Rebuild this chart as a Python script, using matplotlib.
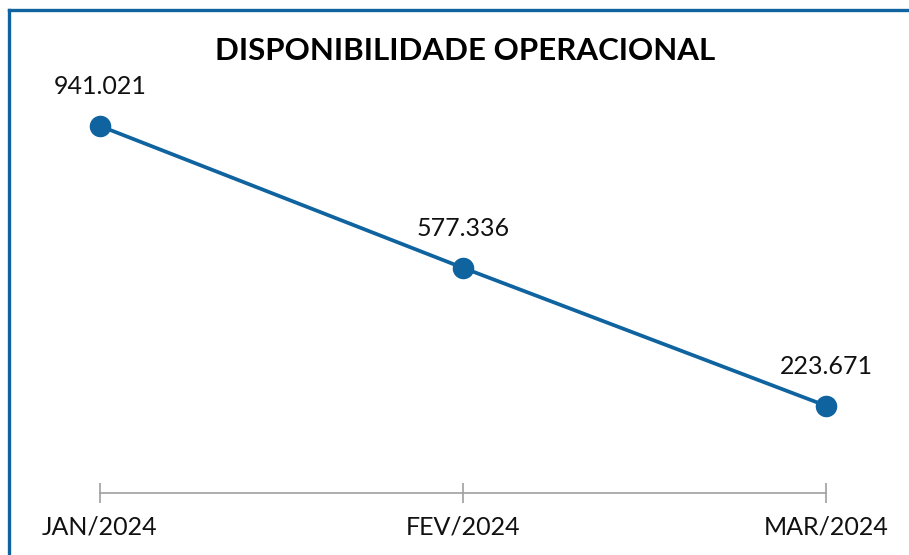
import matplotlib.pyplot as plt
from matplotlib.lines import Line2D

months = ['JAN/2024', 'FEV/2024', 'MAR/2024']
values = [941.021, 577.336, 223.671]
value_labels = ['941.021', '577.336', '223.671']
title = 'DISPONIBILIDADE OPERACIONAL'

BLUE = '#0f64a0'
GRAY = '#a0a0a0'

plt.rcParams['font.family'] = ['Lato', 'DejaVu Sans']

fig = plt.figure(figsize=(9.09, 5.55), dpi=100)
ax = fig.add_axes([100 / 909, 1 - 493 / 555, 726 / 909, 390 / 555])

x = list(range(len(months)))
ax.plot(x, values, color=BLUE, linewidth=2.7, marker='o', markersize=14.5,
        markerfacecolor=BLUE, markeredgecolor=BLUE, clip_on=False)

for xi, v, lab in zip(x, values, value_labels):
    ax.annotate(lab, (xi, v), xytext=(0, 20), textcoords='offset points',
                ha='center', va='bottom', fontsize=18, color='#111111')

ax.set_xlim(0, 2)
ax.set_ylim(0, 1000)
ax.set_xticks(x)
ax.set_xticklabels(months, fontsize=18, color='#111111')
ax.set_yticks([])
for s in ['top', 'right', 'left']:
    ax.spines[s].set_visible(False)
ax.spines['bottom'].set_color(GRAY)
ax.spines['bottom'].set_linewidth(1.2)
ax.tick_params(axis='x', direction='inout', length=14, width=1.2, color=GRAY, pad=9)

fig.text(465 / 909, 1 - 51 / 555, title, ha='center', va='center',
         fontsize=22.5, fontweight='bold', color='#000000')

# frame lines on the left and top
fig.add_artist(Line2D([9 / 909, 9 / 909], [0, 1 - 10 / 555], color=BLUE, linewidth=2.4,
                      transform=fig.transFigure))
fig.add_artist(Line2D([9 / 909, 1], [1 - 10 / 555, 1 - 10 / 555], color=BLUE, linewidth=2.4,
                      transform=fig.transFigure))

fig.savefig('out.png', dpi=100)
